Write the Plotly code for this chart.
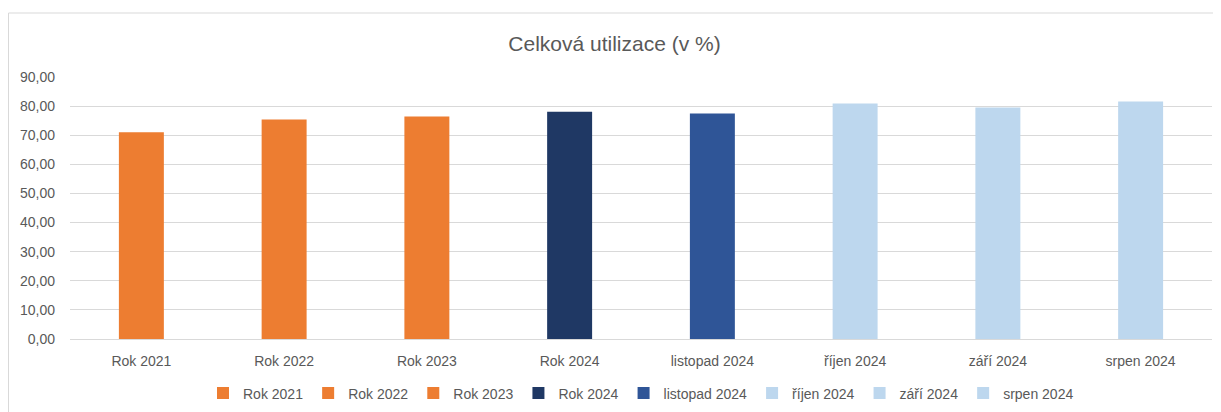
import plotly.graph_objects as go

categories = ["Rok 2021", "Rok 2022", "Rok 2023", "Rok 2024",
              "listopad 2024", "říjen 2024", "září 2024", "srpen 2024"]
values = [71.0, 75.4, 76.4, 78.1, 77.5, 80.9, 79.5, 81.6]
colors = ["#ED7D31", "#ED7D31", "#ED7D31", "#1F3864",
          "#2F5597", "#BDD7EE", "#BDD7EE", "#BDD7EE"]
y_ticks = [0, 10, 20, 30, 40, 50, 60, 70, 80, 90]

FONT = "Liberation Sans"
GRAY = "#595959"

W, H = 1213, 404
ML, MR, MT, MB = 62, 9, 69, 73
PW = W - ML - MR
PH = H - MT - MB

fig = go.Figure()
for cat, val, col in zip(categories, values, colors):
    fig.add_trace(go.Bar(x=[cat], y=[val], name=cat, marker_color=col,
                         marker_line_width=0, width=0.315))

fig.update_layout(
    width=W, height=H,
    margin=dict(l=ML, r=MR, t=MT, b=MB, autoexpand=False),
    paper_bgcolor="white", plot_bgcolor="white",
    barmode="overlay",
    separators=", ",
    font=dict(family=FONT, size=14, color=GRAY),
    title=dict(text="Celková utilizace (v %)", x=0.5, xanchor="center",
               y=1 - 36 / H, yanchor="middle",
               font=dict(family=FONT, size=21, color=GRAY)),
    legend=dict(orientation="h", x=0.5, xanchor="center",
                yref="container", y=1 - 385.5 / H, yanchor="middle",
                font=dict(family=FONT, size=14, color=GRAY),
                itemwidth=30, traceorder="normal"),
    xaxis=dict(categoryorder="array", categoryarray=categories,
               showgrid=False, showline=True, linecolor="#D9D9D9", linewidth=1,
               ticks="", ticklabelstandoff=9, tickfont=dict(size=14, color=GRAY)),
    yaxis=dict(range=[0, 90], tickvals=y_ticks, tickformat=".2f",
               showgrid=True, gridcolor="#D9D9D9", gridwidth=1,
               zeroline=False, showline=False, ticks="",
               ticklabelstandoff=14, tickfont=dict(size=14, color=GRAY)),
    shapes=[
        dict(type="rect", xref="paper", yref="paper",
             x0=(0.5 - ML) / PW, x1=1.05, y0=-0.5, y1=1 + (MT - 5) / PH,
             line=dict(color="#D9D9D9", width=1), fillcolor="rgba(0,0,0,0)",
             layer="below"),
    ],
)

fig.write_html("out.html")
